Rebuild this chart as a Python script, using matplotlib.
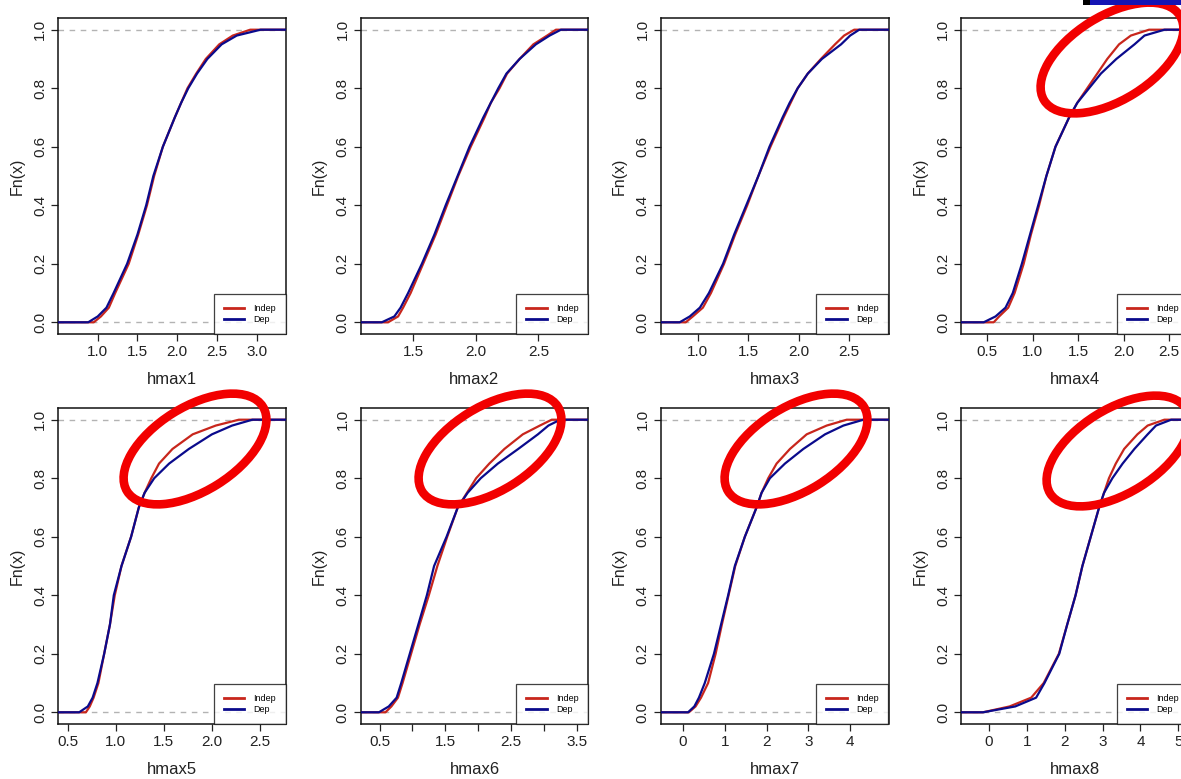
import matplotlib
matplotlib.use("Agg")
import matplotlib.pyplot as plt
from matplotlib.patches import Ellipse, Rectangle

plt.rcParams['font.family'] = ['Liberation Sans', 'DejaVu Sans']

levels = [0, 0.02, 0.05, 0.1, 0.2, 0.3, 0.4, 0.5, 0.6, 0.7, 0.75, 0.8, 0.85, 0.9, 0.95, 0.98, 1.0]

names = ["hmax1", "hmax2", "hmax3", "hmax4", "hmax5", "hmax6", "hmax7", "hmax8"]

indep = [
    [0.95, 1.04, 1.14, 1.22, 1.39, 1.51, 1.62, 1.71, 1.82, 1.97, 2.05, 2.13, 2.24, 2.36, 2.53, 2.70, 2.92],
    [1.30, 1.38, 1.42, 1.48, 1.58, 1.68, 1.77, 1.86, 1.96, 2.07, 2.12, 2.19, 2.25, 2.35, 2.46, 2.57, 2.64],
    [0.88, 0.95, 1.05, 1.13, 1.26, 1.37, 1.49, 1.60, 1.72, 1.85, 1.92, 1.99, 2.09, 2.22, 2.36, 2.45, 2.55],
    [0.57, 0.63, 0.73, 0.80, 0.90, 0.98, 1.07, 1.15, 1.25, 1.40, 1.49, 1.60, 1.71, 1.82, 1.95, 2.08, 2.28],
    [0.69, 0.73, 0.77, 0.82, 0.88, 0.94, 0.99, 1.06, 1.16, 1.24, 1.30, 1.37, 1.45, 1.59, 1.80, 2.04, 2.28],
    [0.59, 0.68, 0.78, 0.85, 0.98, 1.11, 1.25, 1.38, 1.53, 1.69, 1.83, 1.97, 2.17, 2.40, 2.68, 2.94, 3.12],
    [0.14, 0.30, 0.43, 0.60, 0.78, 0.93, 1.09, 1.25, 1.48, 1.76, 1.88, 2.04, 2.24, 2.56, 2.96, 3.44, 3.92],
    [-0.15, 0.55, 1.12, 1.45, 1.85, 2.07, 2.29, 2.47, 2.69, 2.91, 3.04, 3.17, 3.35, 3.57, 3.92, 4.19, 4.63],
]

dep = [
    [0.88, 1.00, 1.11, 1.20, 1.37, 1.50, 1.61, 1.70, 1.82, 1.97, 2.05, 2.14, 2.25, 2.38, 2.56, 2.75, 3.05],
    [1.25, 1.35, 1.40, 1.46, 1.57, 1.67, 1.76, 1.855, 1.95, 2.06, 2.12, 2.18, 2.245, 2.35, 2.48, 2.59, 2.68],
    [0.82, 0.92, 1.02, 1.11, 1.25, 1.36, 1.48, 1.60, 1.71, 1.84, 1.91, 1.99, 2.09, 2.23, 2.42, 2.51, 2.60],
    [0.46, 0.59, 0.70, 0.78, 0.88, 0.97, 1.06, 1.15, 1.25, 1.40, 1.49, 1.62, 1.75, 1.92, 2.12, 2.23, 2.45],
    [0.62, 0.71, 0.76, 0.81, 0.88, 0.94, 0.98, 1.06, 1.16, 1.24, 1.30, 1.40, 1.555, 1.76, 2.00, 2.21, 2.42],
    [0.49, 0.64, 0.76, 0.83, 0.96, 1.09, 1.22, 1.33, 1.52, 1.69, 1.84, 2.04, 2.30, 2.61, 2.91, 3.07, 3.25],
    [0.12, 0.27, 0.38, 0.52, 0.74, 0.91, 1.08, 1.24, 1.48, 1.76, 1.88, 2.08, 2.44, 2.88, 3.40, 3.84, 4.32],
    [-0.15, 0.70, 1.25, 1.47, 1.86, 2.07, 2.29, 2.47, 2.69, 2.91, 3.04, 3.26, 3.53, 3.84, 4.19, 4.41, 4.81],
]

xlims = [(0.50, 3.37), (1.08, 2.90), (0.63, 2.89), (0.21, 2.72),
         (0.40, 2.77), (0.21, 3.68), (-0.54, 4.92), (-0.73, 5.28)]

xticks = [
    [1.0, 1.5, 2.0, 2.5, 3.0],
    [1.5, 2.0, 2.5],
    [1.0, 1.5, 2.0, 2.5],
    [0.5, 1.0, 1.5, 2.0, 2.5],
    [0.5, 1.0, 1.5, 2.0, 2.5],
    [0.5, 1.0, 1.5, 2.0, 2.5, 3.0, 3.5],
    [0, 1, 2, 3, 4],
    [0, 1, 2, 3, 4, 5],
]
xticklabels = [
    ["1.0", "1.5", "2.0", "2.5", "3.0"],
    ["1.5", "2.0", "2.5"],
    ["1.0", "1.5", "2.0", "2.5"],
    ["0.5", "1.0", "1.5", "2.0", "2.5"],
    ["0.5", "1.0", "1.5", "2.0", "2.5"],
    ["0.5", "", "1.5", "", "2.5", "", "3.5"],
    ["0", "1", "2", "3", "4"],
    ["0", "1", "2", "3", "4", "5"],
]

# panels that got a red ring drawn on them: (panel index, centre x px, centre y px)
rings = [(3, 1112, 58), (4, 195, 449), (5, 490, 449), (6, 796, 449), (7, 1118, 451)]

W, H = 1181, 779
RED = '#c8261c'
BLUE = '#0a0a8c'

fig = plt.figure(figsize=(W / 100, H / 100), dpi=100)
fig.patch.set_facecolor('white')

lefts = [58, 360.5, 660.5, 961]
tops = [18, 408]
aw, ah = 228, 316

for i in range(8):
    r, c = divmod(i, 4)
    ax = fig.add_axes([lefts[c] / W, 1 - (tops[r] + ah) / H, aw / W, ah / H])
    x0, x1 = xlims[i]
    ax.set_xlim(x0, x1)
    ax.set_ylim(-0.04, 1.04)

    ax.axhline(0, color='#b3b3b3', lw=1.0, ls=(0, (4, 4)), zorder=1)
    ax.axhline(1, color='#b3b3b3', lw=1.0, ls=(0, (4, 4)), zorder=1)

    fx = [x0] + indep[i] + [x1]
    fy = [0] + levels + [1]
    ax.plot(fx, fy, color=RED, lw=1.6, zorder=2, label='Indep')
    gx = [x0] + dep[i] + [x1]
    ax.plot(gx, fy, color=BLUE, lw=1.6, zorder=3, label='Dep')

    ax.set_xticks(xticks[i])
    ax.set_xticklabels(xticklabels[i])
    ax.set_yticks([0, 0.2, 0.4, 0.6, 0.8, 1.0])
    ax.set_yticklabels(["0.0", "0.2", "0.4", "0.6", "0.8", "1.0"], rotation=90, va='center')
    ax.tick_params(direction='out', length=5, width=0.9, labelsize=11, pad=3, colors='#222222')
    ax.tick_params(axis='y', pad=3)
    for s in ax.spines.values():
        s.set_linewidth(1.1)
        s.set_color('#111111')

    ax.set_xlabel(names[i], fontsize=12, labelpad=9, color='#222222')
    ax.set_ylabel("Fn(x)", fontsize=11.5, labelpad=6, color='#222222')

    leg = ax.legend(loc='lower right', fontsize=6.5, frameon=True, fancybox=False,
                    borderaxespad=0, borderpad=1.1, labelspacing=0.2,
                    handlelength=2.3, handletextpad=1.0)
    leg.get_frame().set_edgecolor('#111111')
    leg.get_frame().set_linewidth(0.9)
    for ln in leg.get_lines():
        ln.set_linewidth(2.0)

# overlay in pixel units for the hand-drawn rings
ov = fig.add_axes([0, 0, 1, 1])
ov.set_xlim(0, W)
ov.set_ylim(H, 0)
ov.axis('off')
ov.patch.set_alpha(0)
for idx, cx, cy in rings:
    ov.add_patch(Ellipse((cx, cy), 160, 84, angle=-32, fill=False,
                         edgecolor='#f20000', lw=6.2))
ov.add_patch(Rectangle((1083, 0), 98, 5, facecolor='#1414b4', edgecolor='none'))
ov.add_patch(Rectangle((1083, 0), 7, 5, facecolor='black', edgecolor='none'))

fig.savefig("out.png", dpi=100)
